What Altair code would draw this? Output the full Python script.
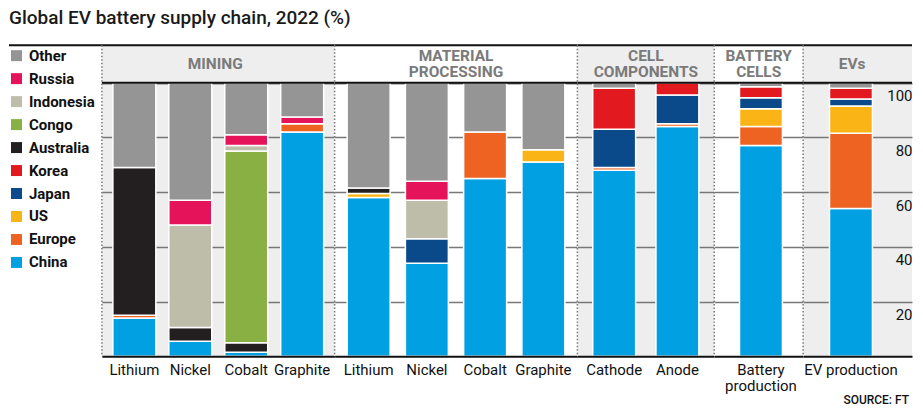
import altair as alt
import pandas as pd

# ---------------- data ----------------
# stacking order, bottom -> top
countries = ["China", "Europe", "US", "Japan", "Korea", "Australia", "Congo", "Indonesia", "Russia", "Other"]
colors = ["#00a0e2", "#ee6222", "#fbb415", "#0a4a8a", "#e2191f", "#231f20", "#89b043", "#bebdaa", "#e5135a", "#959595"]

stages = ["MINING", "MATERIAL PROCESSING", "CELL COMPONENTS", "BATTERY CELLS", "EVs"]
headers = ["MINING", "MATERIAL\nPROCESSING", "CELL\nCOMPONENTS", "BATTERY\nCELLS", "EVs"]
materials = [
    ["Lithium", "Nickel", "Cobalt", "Graphite"],
    ["Lithium", "Nickel", "Cobalt", "Graphite"],
    ["Cathode", "Anode"],
    ["Battery production"],
    ["EV production"],
]

# values in country order: China, Europe, US, Japan, Korea, Australia, Congo, Indonesia, Russia, Other
mining_lithium = [14, 1, 0, 0, 0, 54, 0, 0, 0, 31]
mining_nickel = [5.5, 0, 0, 0, 0, 5, 0, 37.5, 9, 43]
mining_cobalt = [1.5, 0, 0, 0, 0, 3.5, 70, 2, 4, 19]
mining_graphite = [82, 3, 0, 0, 0, 0, 0, 0, 2.5, 12.5]
proc_lithium = [58, 0, 1.5, 0, 0, 2, 0, 0, 0, 38.5]
proc_nickel = [34, 0, 0, 9, 0, 0, 0, 14, 7, 36]
proc_cobalt = [65, 17, 0, 0, 0, 0, 0, 0, 0, 18]
proc_graphite = [71, 0, 4.5, 0, 0, 0, 0, 0, 0, 24.5]
cell_cathode = [68, 1, 0, 14, 15, 0, 0, 0, 0, 2]
cell_anode = [84, 1, 0, 10.5, 4.5, 0, 0, 0, 0, 0]
battery_production = [77, 7, 6.5, 4, 4, 0, 0, 0, 0, 1.5]
ev_production = [54, 27.5, 10, 2.5, 4, 0, 0, 0, 0, 2]

series = [
    [mining_lithium, mining_nickel, mining_cobalt, mining_graphite],
    [proc_lithium, proc_nickel, proc_cobalt, proc_graphite],
    [cell_cathode, cell_anode],
    [battery_production],
    [ev_production],
]

y_ticks = [20, 40, 60, 80, 100]
title_text = "Global EV battery supply chain, 2022 (%)"
source_text = "SOURCE: FT"

rows = []
for s, mats, vals in zip(stages, materials, series):
    for m, v in zip(mats, vals):
        for rank, (c, x) in enumerate(zip(countries, v)):
            if x > 0:
                rows.append({"stage": s, "material": m, "country": c, "value": x, "rank": rank})
df = pd.DataFrame(rows)

legend_order = countries[::-1]
legend_colors = colors[::-1]

# ---------------- layout ----------------
H = 311.5
YMAX = 113.7
PXU = H / YMAX
widths = [233, 243, 137, 89, 109]
fills = ["#eeeeee", "#ffffff", "#eeeeee", "#ffffff", "#eeeeee"]
pad_inner = [0.232, 0.262, 0.321, 0.0, 0.0]
pad_outer = [0.196, 0.215, 0.243, 0.535, 0.767]
aligns = [0.5, 0.5, 0.5, 0.55, 0.40]
header_x = [w / 2 for w in widths]
header_x[0] = widths[0] / 2 - 3
header_x[4] = 49

FONT = "Roboto"


def make_panel(i):
    stage = stages[i]
    w = widths[i]
    last = i == len(stages) - 1
    if last:
        yaxis = alt.Axis(orient="right", values=y_ticks, grid=True, gridColor="#777777", gridWidth=1.5,
                         ticks=False, tickSize=0, domain=False, labelAlign="right", labelPadding=0,
                         labelBaseline="middle", labelOffset=13, labelFont=FONT, labelFontSize=15,
                         labelColor="#111111", title=None)
    else:
        yaxis = alt.Axis(values=y_ticks, grid=True, gridColor="#777777", gridWidth=1.5, labels=False,
                         ticks=False, domain=False, title=None)
    xaxis_kw = dict(title=None, ticks=False, domainColor="#111111", domainWidth=2, labelAngle=0,
                    labelFont=FONT, labelFontSize=15, labelColor="#111111", labelPadding=6,
                    labelOverlap=False, labelLineHeight=16, zindex=1)
    if stage == "BATTERY CELLS":
        xaxis_kw["labelExpr"] = "split(datum.label, ' ')"
    bars = alt.Chart(df).transform_filter(alt.datum.stage == stage).mark_bar(
        stroke="white", strokeWidth=1.5
    ).encode(
        x=alt.X("material:N", sort=materials[i],
                scale=alt.Scale(paddingInner=pad_inner[i], paddingOuter=pad_outer[i], align=aligns[i]),
                axis=alt.Axis(**xaxis_kw)),
        y=alt.Y("value:Q", stack="zero", scale=alt.Scale(domain=[0, YMAX], nice=False), axis=yaxis),
        color=alt.Color("country:N", scale=alt.Scale(domain=legend_order, range=legend_colors),
                        legend=alt.Legend(title=None)),
        order=alt.Order("rank:Q", sort="ascending"),
    )
    one = pd.DataFrame({"header": [headers[i]]})
    line100 = alt.Chart(one).mark_rule(color="#111111", strokeWidth=2).encode(
        y=alt.datum(100), x=alt.value(0), x2=alt.value(w))
    topline = alt.Chart(one).mark_rule(color="#111111", strokeWidth=2).encode(
        y=alt.datum(YMAX), x=alt.value(-93 if i == 0 else 0), x2=alt.value(w))
    dotted = alt.Chart(one).mark_rule(color="#777777", strokeWidth=1.5, strokeDash=[1.5, 2]).encode(
        x=alt.value(0), y=alt.value(0), y2=alt.value(H))
    # first-line centre: 11 px below the top rule for two-line headers, mid-band for one line
    two_lines = "\n" in headers[i]
    head_y = YMAX - (11.2 / PXU) if two_lines else (100 + YMAX) / 2
    head = alt.Chart(one).mark_text(font=FONT, fontSize=15.5, fontWeight="bold", color="#7a7a7a",
                                    lineBreak="\n", lineHeight=15.5, baseline="middle", align="center").encode(
        text="header:N", x=alt.value(header_x[i]), y=alt.datum(head_y))
    layers = [bars, line100, topline, dotted, head]
    if last:
        src = alt.Chart(pd.DataFrame({"s": [source_text]})).mark_text(
            font=FONT, fontSize=12, fontWeight=500, color="#111111", align="right", baseline="middle"
        ).encode(text="s:N", x=alt.value(w - 3), y=alt.value(H + 43.5))
        layers.append(src)
    return alt.layer(*layers).properties(width=w, height=H, view=alt.ViewBackground(fill=fills[i], stroke=None))


panels = [make_panel(i) for i in range(len(stages))]

chart = alt.hconcat(*panels, spacing=0, bounds="flush").resolve_scale(
    x="independent", y="independent", color="shared"
).properties(
    title=alt.TitleParams(title_text, anchor="start", dx=-93, font=FONT, fontSize=19, fontWeight=500,
                          color="#1a1a1a", baseline="alphabetic", offset=1.7, frame="group"),
    padding={"left": 0, "top": 0, "right": 2, "bottom": 2},
).configure_view(stroke=None).configure_legend(
    orient="none", legendX=-93, legendY=3, symbolType="square", symbolSize=121, symbolStrokeWidth=0,
    labelFont=FONT, labelFontWeight="bold", labelFontSize=15, labelColor="#111111", rowPadding=7,
    labelOffset=5, symbolOpacity=1,
)

chart.save("out.html", embed_options={"renderer": "svg", "actions": False})
